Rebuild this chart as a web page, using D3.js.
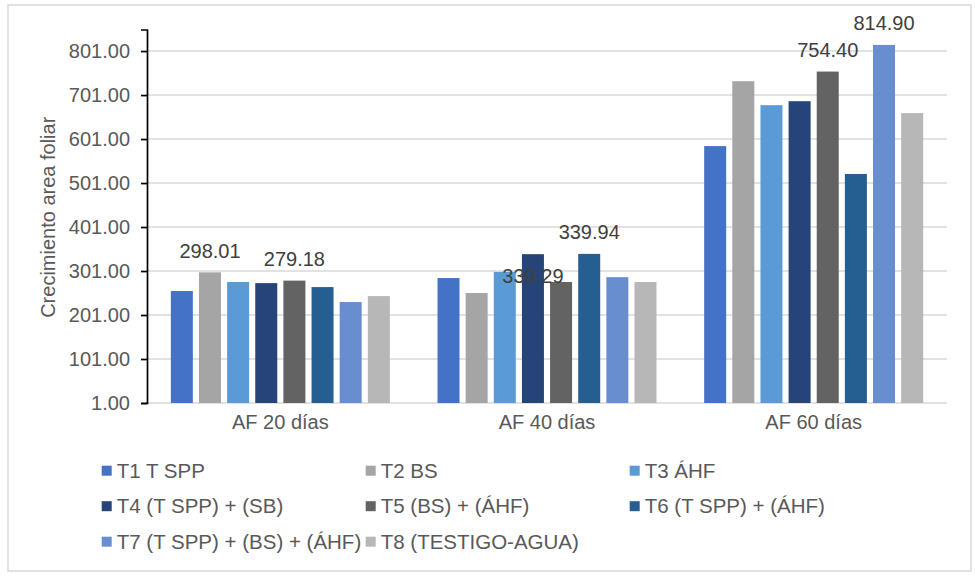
<!DOCTYPE html>
<html>
<head>
<meta charset="utf-8">
<script src="https://cdn.jsdelivr.net/npm/d3@7"></script>
<style>
  body { margin: 0; background: #fff; }
  svg { display: block; font-family: "Liberation Sans", Arial, sans-serif; }
</style>
</head>
<body>
<svg id="chart" width="975" height="576"></svg>
<script>
const categories = ['AF 20 días', 'AF 40 días', 'AF 60 días'];
const seriesNames = [
  'T1 T SPP', 'T2 BS', 'T3 ÁHF',
  'T4 (T SPP) + (SB)', 'T5 (BS) + (ÁHF)', 'T6 (T SPP) + (ÁHF)',
  'T7 (T SPP) + (BS) + (ÁHF)', 'T8 (TESTIGO-AGUA)'
];
const seriesColors = ['#4472C4', '#A5A5A5', '#5B9BD5', '#264478', '#636363', '#255E91', '#698ED0', '#B7B7B7'];
// values per series: [20 días, 40 días, 60 días]
const t1 = [255.5, 285.0, 585.0];
const t2 = [298.01, 251.0, 732.5];
const t3 = [276.0, 299.0, 678.0];
const t4 = [273.5, 339.29, 687.0];
const t5 = [279.18, 276.0, 754.40];
const t6 = [264.5, 339.94, 521.5];
const t7 = [230.5, 287.0, 814.90];
const t8 = [244.0, 276.0, 660.0];
const seriesValues = [t1, t2, t3, t4, t5, t6, t7, t8];
const yTicks = [1, 101, 201, 301, 401, 501, 601, 701, 801];
// which bars carry a value label: [category index, series index]
const labeled = [[0, 1], [0, 4], [1, 3], [1, 5], [2, 4], [2, 6]];

const svg = d3.select('#chart');
const margin = { top: 29.5, right: 28, bottom: 173, left: 147 };
const width = 975, height = 576;
const textColor = '#595959';
const gridColor = '#d9d9d9';

// chart border
svg.append('rect')
  .attr('x', 8).attr('y', 5)
  .attr('width', 963).attr('height', 566)
  .attr('fill', 'none')
  .attr('stroke', gridColor)
  .attr('stroke-width', 1.5);

const x0 = d3.scaleBand()
  .domain(categories)
  .range([margin.left, width - margin.right]);

const x1 = d3.scaleBand()
  .domain(seriesNames)
  .range([0, x0.bandwidth()])
  .paddingInner(0.218)
  .paddingOuter(0.847);

const y = d3.scaleLinear()
  .domain([1, 850])
  .range([height - margin.bottom, margin.top]);

// gridlines
svg.append('g')
  .selectAll('line')
  .data(yTicks)
  .enter()
  .append('line')
  .attr('x1', margin.left)
  .attr('x2', width - margin.right)
  .attr('y1', (d) => y(d))
  .attr('y2', (d) => y(d))
  .attr('stroke', gridColor)
  .attr('stroke-width', 1.6);

// bars
const data = [];
categories.forEach((c, ci) => {
  seriesNames.forEach((s, si) => {
    data.push({ cat: c, ci, series: s, si, value: seriesValues[si][ci] });
  });
});

svg.append('g')
  .selectAll('rect')
  .data(data)
  .enter()
  .append('rect')
  .attr('x', (d) => x0(d.cat) + x1(d.series))
  .attr('y', (d) => y(d.value))
  .attr('width', x1.bandwidth())
  .attr('height', (d) => y(1) - y(d.value))
  .attr('fill', (d) => seriesColors[d.si]);

// y axis
const yAxis = svg.append('g')
  .attr('transform', `translate(${margin.left},0)`)
  .call(d3.axisLeft(y).tickValues(yTicks).tickFormat(d3.format('.2f')).tickSize(6).tickPadding(11));
yAxis.select('.domain').attr('stroke', '#000').attr('stroke-width', 1.7);
yAxis.selectAll('.tick line').attr('stroke', '#000').attr('stroke-width', 1.7);
yAxis.selectAll('.tick text')
  .attr('fill', textColor)
  .attr('font-size', 20)
  .attr('font-family', '"Liberation Sans", Arial, sans-serif');

// x axis labels
const xAxis = svg.append('g')
  .attr('transform', `translate(0,${y(1)})`)
  .call(d3.axisBottom(x0).tickSize(0).tickPadding(12));
xAxis.select('.domain').remove();
xAxis.selectAll('.tick text')
  .attr('fill', textColor)
  .attr('font-size', 20)
  .attr('font-family', '"Liberation Sans", Arial, sans-serif');

// y axis title
svg.append('text')
  .attr('transform', `translate(55,${(y(1) + margin.top) / 2 + 1}) rotate(-90)`)
  .attr('text-anchor', 'middle')
  .attr('fill', textColor)
  .attr('font-size', 20)
  .text('Crecimiento area foliar');

// value labels (the 40-day T4 label sits lower, as in the original)
svg.append('g')
  .selectAll('text')
  .data(labeled)
  .enter()
  .append('text')
  .attr('x', (d) => x0(categories[d[0]]) + x1(seriesNames[d[1]]) + x1.bandwidth() / 2)
  .attr('y', (d) => y(seriesValues[d[1]][d[0]]) + (d[0] === 1 && d[1] === 3 ? 29 : -14.5))
  .attr('text-anchor', 'middle')
  .attr('fill', '#404040')
  .attr('font-size', 20)
  .text((d) => d3.format('.2f')(seriesValues[d[1]][d[0]]));

// legend
const legend = svg.append('g')
  .selectAll('g')
  .data(seriesNames)
  .enter()
  .append('g')
  .attr('transform', (d, i) => `translate(${101.7 + (i % 3) * 264},${470.7 + Math.floor(i / 3) * 35.5})`);

legend.append('rect')
  .attr('x', 0).attr('y', -5)
  .attr('width', 10).attr('height', 10)
  .attr('fill', (d, i) => seriesColors[i]);

legend.append('text')
  .attr('x', 15)
  .attr('dy', '0.35em')
  .attr('fill', textColor)
  .attr('font-size', 20.5)
  .text((d) => d);
</script>
</body>
</html>
